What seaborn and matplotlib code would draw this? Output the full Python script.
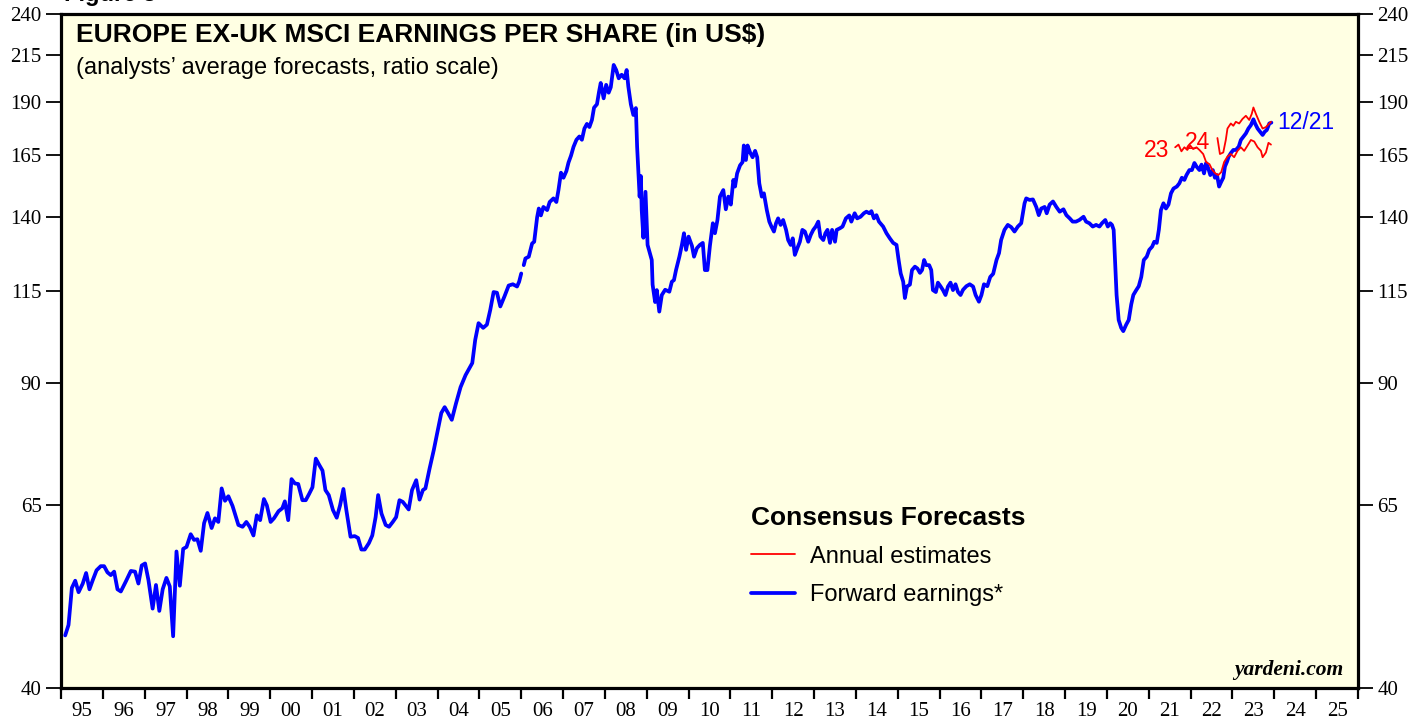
import pandas as pd
import matplotlib
matplotlib.use("Agg")
import matplotlib.pyplot as plt
from matplotlib.lines import Line2D
import seaborn as sns

# forward earnings (decimal year, US$); the line breaks early in 2006
fwd_years_a = [1995.10, 1995.18, 1995.26, 1995.34, 1995.42, 1995.52, 1995.60, 1995.68, 1995.76, 1995.85,
               1995.95, 1996.03, 1996.11, 1996.19, 1996.27, 1996.35, 1996.43, 1996.55, 1996.67, 1996.77,
               1996.85, 1996.93, 1997.01, 1997.09, 1997.19, 1997.27, 1997.35, 1997.43, 1997.52, 1997.60,
               1997.68, 1997.76, 1997.84, 1997.92, 1998.00, 1998.10, 1998.18, 1998.26, 1998.34, 1998.42,
               1998.50, 1998.60, 1998.68, 1998.76, 1998.84, 1998.92, 1999.00, 1999.10, 1999.24, 1999.34,
               1999.43, 1999.51, 1999.60, 1999.68, 1999.76, 1999.85, 1999.92, 2000.01, 2000.09, 2000.20,
               2000.29, 2000.35, 2000.43, 2000.51, 2000.59, 2000.67, 2000.77, 2000.85, 2000.93, 2001.01,
               2001.09, 2001.17, 2001.25, 2001.32, 2001.40, 2001.50, 2001.59, 2001.67, 2001.75, 2001.82,
               2001.92, 2002.02, 2002.10, 2002.18, 2002.26, 2002.36, 2002.44, 2002.52, 2002.58, 2002.66,
               2002.76, 2002.84, 2002.93, 2003.01, 2003.09, 2003.17, 2003.31, 2003.39, 2003.49, 2003.57,
               2003.65, 2003.71, 2003.81, 2003.91, 2003.99, 2004.09, 2004.17, 2004.25, 2004.34, 2004.44,
               2004.55, 2004.67, 2004.83, 2004.90, 2004.98, 2005.09, 2005.18, 2005.26, 2005.34, 2005.42,
               2005.50, 2005.60, 2005.70, 2005.80, 2005.90, 2005.95, 2006.00]
fwd_eps_a = [46.0, 47.3, 52.2, 53.2, 51.6, 52.8, 54.3, 52.0, 53.3, 54.7,
             55.3, 55.3, 54.4, 54.0, 54.5, 52.0, 51.7, 53.1, 54.6, 54.5,
             52.8, 55.4, 55.7, 53.3, 49.4, 52.6, 49.1, 52.0, 53.6, 52.4,
             45.9, 57.5, 52.5, 57.9, 58.2, 60.2, 59.3, 59.4, 57.6, 62.0,
             63.7, 61.2, 62.8, 62.2, 68.0, 65.8, 66.6, 64.9, 61.7, 61.4,
             62.2, 61.4, 60.0, 63.3, 62.5, 66.1, 65.0, 62.2, 62.8, 64.0,
             64.5, 65.7, 62.5, 69.7, 68.9, 68.8, 65.9, 65.9, 67.0, 68.2,
             73.6, 72.4, 71.3, 67.7, 66.8, 64.2, 62.9, 65.0, 67.9, 64.2,
             59.8, 59.9, 59.6, 57.8, 57.8, 58.8, 60.0, 63.0, 66.8, 63.6,
             61.7, 61.4, 62.2, 63.0, 65.9, 65.6, 64.3, 67.7, 69.5, 66.0,
             67.7, 68.0, 71.7, 75.3, 78.7, 83.1, 84.4, 83.1, 81.6, 85.2,
             89.0, 91.9, 94.9, 100.9, 105.5, 104.2, 105.1, 109.3, 114.6, 114.4,
             110.3, 113.3, 116.6, 117.0, 116.3, 117.8, 120.4]

fwd_years_b = [2006.06, 2006.10, 2006.18, 2006.26, 2006.31, 2006.38, 2006.42, 2006.47, 2006.53, 2006.62,
               2006.68, 2006.77, 2006.84, 2006.89, 2006.95, 2007.01, 2007.08, 2007.13, 2007.19, 2007.25,
               2007.32, 2007.39, 2007.45, 2007.51, 2007.57, 2007.63, 2007.69, 2007.74, 2007.81, 2007.86,
               2007.90, 2007.97, 2008.03, 2008.09, 2008.14, 2008.21, 2008.27, 2008.33, 2008.40, 2008.47,
               2008.52, 2008.56, 2008.62, 2008.68, 2008.74, 2008.77, 2008.83, 2008.86, 2008.88, 2008.92,
               2008.97, 2009.02, 2009.12, 2009.14, 2009.20, 2009.24, 2009.30, 2009.36, 2009.44, 2009.54,
               2009.60, 2009.65, 2009.70, 2009.78, 2009.84, 2009.89, 2009.94, 2010.00, 2010.08, 2010.13,
               2010.20, 2010.27, 2010.34, 2010.39, 2010.45, 2010.51, 2010.58, 2010.63, 2010.69, 2010.75,
               2010.83, 2010.89, 2010.95, 2011.01, 2011.07, 2011.11, 2011.16, 2011.23, 2011.29, 2011.32,
               2011.37, 2011.41, 2011.47, 2011.53, 2011.59, 2011.64, 2011.69, 2011.75, 2011.80, 2011.87,
               2011.93, 2011.98, 2012.04, 2012.09, 2012.14, 2012.20, 2012.26, 2012.33, 2012.38, 2012.44,
               2012.49, 2012.54, 2012.60, 2012.66, 2012.72, 2012.78, 2012.86, 2012.92, 2012.98, 2013.04,
               2013.10, 2013.15, 2013.22, 2013.27, 2013.32, 2013.38, 2013.43, 2013.50, 2013.54, 2013.62,
               2013.68, 2013.76, 2013.84, 2013.89, 2013.97, 2014.03, 2014.11, 2014.19, 2014.25, 2014.32,
               2014.37, 2014.43, 2014.49, 2014.55, 2014.65, 2014.73, 2014.81, 2014.89, 2014.97, 2015.02,
               2015.07, 2015.13, 2015.17, 2015.22, 2015.29, 2015.34, 2015.41, 2015.47, 2015.53, 2015.58,
               2015.63, 2015.68, 2015.75, 2015.80, 2015.84, 2015.91, 2015.96, 2016.02, 2016.08, 2016.14,
               2016.20, 2016.26, 2016.32, 2016.38, 2016.44, 2016.50, 2016.56, 2016.64, 2016.72, 2016.80,
               2016.86, 2016.94, 2017.00, 2017.06, 2017.14, 2017.21, 2017.28, 2017.36, 2017.42, 2017.47,
               2017.55, 2017.63, 2017.71, 2017.79, 2017.87, 2017.95, 2018.03, 2018.07, 2018.15, 2018.23,
               2018.31, 2018.37, 2018.43, 2018.51, 2018.56, 2018.63, 2018.71, 2018.79, 2018.87, 2018.96,
               2019.03, 2019.11, 2019.18, 2019.26, 2019.34, 2019.44, 2019.50, 2019.58, 2019.66, 2019.74,
               2019.82, 2019.88, 2019.96, 2020.02, 2020.08, 2020.12, 2020.16, 2020.20, 2020.23, 2020.28,
               2020.34, 2020.39, 2020.46, 2020.52, 2020.58, 2020.63, 2020.70, 2020.76, 2020.82, 2020.88,
               2020.95, 2021.01, 2021.08, 2021.13, 2021.19, 2021.24, 2021.29, 2021.35, 2021.41, 2021.47,
               2021.53, 2021.59, 2021.67, 2021.73, 2021.79, 2021.85, 2021.90, 2021.97, 2022.03, 2022.09,
               2022.14, 2022.21, 2022.26, 2022.32, 2022.37, 2022.42, 2022.47, 2022.53, 2022.58, 2022.63,
               2022.68, 2022.73, 2022.78, 2022.82, 2022.87, 2022.91, 2022.96, 2023.02, 2023.08, 2023.15,
               2023.20, 2023.26, 2023.32, 2023.38, 2023.44, 2023.50, 2023.54, 2023.60, 2023.66, 2023.72,
               2023.77, 2023.82, 2023.88, 2023.93]
fwd_eps_b = [123.1, 125.3, 125.9, 130.4, 131.0, 139.8, 143.1, 140.5, 143.7, 142.5,
             145.6, 147.0, 145.6, 150.3, 157.4, 155.3, 158.1, 161.7, 164.7, 168.6,
             171.8, 173.3, 171.8, 177.0, 179.2, 177.7, 181.1, 187.1, 188.8, 195.2,
             199.8, 191.8, 198.8, 194.7, 197.5, 209.6, 206.8, 202.3, 204.2, 202.3,
             206.8, 197.9, 188.8, 183.5, 186.9, 168.6, 147.7, 156.0, 142.5, 132.4,
             149.6, 129.9, 124.8, 116.9, 111.6, 115.2, 108.8, 113.7, 115.3, 114.7,
             117.8, 118.3, 121.5, 125.9, 129.9, 134.0, 128.2, 132.8, 129.6, 125.9,
             128.8, 129.9, 130.6, 121.5, 121.5, 129.6, 137.6, 134.0, 138.8, 147.7,
             150.3, 142.8, 147.7, 144.6, 154.4, 151.7, 157.1, 160.5, 161.9, 169.2,
             162.8, 169.2, 166.1, 164.0, 166.8, 164.0, 153.0, 147.7, 149.0, 142.5,
             138.2, 136.4, 134.6, 137.6, 139.4, 137.0, 138.8, 135.2, 131.6, 129.9,
             132.2, 126.5, 128.8, 131.0, 135.2, 134.6, 131.0, 133.4, 135.2, 136.4,
             138.2, 132.8, 131.6, 134.0, 135.2, 130.6, 135.2, 131.0, 135.2, 135.8,
             136.4, 139.4, 140.5, 138.2, 141.3, 139.4, 140.0, 141.3, 141.9, 141.3,
             142.1, 139.4, 140.6, 138.2, 136.4, 134.0, 132.2, 130.6, 129.9, 124.8,
             120.4, 117.8, 112.8, 116.3, 116.9, 121.5, 122.6, 122.0, 120.6, 121.5,
             124.8, 123.1, 123.1, 121.5, 115.2, 114.6, 117.5, 116.4, 115.2, 113.7,
             116.3, 117.5, 115.2, 117.0, 114.6, 113.7, 115.3, 116.4, 117.0, 116.3,
             113.7, 111.7, 113.7, 117.0, 116.4, 119.3, 120.3, 124.8, 127.1, 131.6,
             135.2, 137.0, 136.2, 134.6, 136.4, 137.6, 145.1, 147.0, 146.4, 146.6,
             143.7, 140.6, 143.1, 143.7, 141.3, 144.6, 145.8, 143.7, 141.9, 142.8,
             140.6, 139.4, 138.2, 138.2, 138.8, 140.0, 138.2, 137.6, 136.4, 137.0,
             136.4, 137.6, 138.8, 136.4, 137.6, 137.0, 135.2, 122.6, 113.7, 106.4,
             104.2, 103.3, 105.1, 106.4, 110.9, 113.7, 115.2, 116.4, 119.3, 124.8,
             125.9, 128.2, 129.3, 131.0, 130.6, 135.2, 142.5, 145.1, 143.1, 144.6,
             149.0, 150.9, 151.7, 153.0, 155.3, 154.4, 156.4, 158.5, 158.5, 161.5,
             160.0, 158.5, 160.8, 157.1, 161.5, 159.3, 156.4, 158.5, 155.3, 156.4,
             151.7, 153.6, 155.3, 160.0, 162.1, 164.3, 165.8, 167.2, 167.2, 168.7,
             171.7, 173.2, 174.7, 177.0, 178.6, 181.4, 179.4, 177.0, 175.5, 174.0,
             175.5, 176.3, 179.4, 179.8]

# annual consensus estimates for 2023 and 2024
est23_years = [2021.63, 2021.71, 2021.78, 2021.85, 2021.92, 2021.99, 2022.06, 2022.14, 2022.21, 2022.30,
               2022.37, 2022.45, 2022.52, 2022.59, 2022.66, 2022.73, 2022.80, 2022.88, 2022.96, 2023.04,
               2023.12, 2023.20, 2023.28, 2023.36, 2023.44, 2023.52, 2023.60, 2023.68, 2023.72, 2023.80,
               2023.86, 2023.92]
est23_eps = [168.4, 169.6, 166.6, 168.4, 167.2, 169.2, 167.6, 168.4, 167.2, 165.4,
             161.9, 161.0, 158.5, 157.1, 156.4, 157.6, 161.9, 164.3, 165.4, 164.0,
             166.8, 168.4, 166.8, 169.2, 171.7, 171.0, 168.4, 166.8, 164.0, 166.1,
             170.4, 169.6]
est24_years = [2022.64, 2022.70, 2022.78, 2022.84, 2022.88, 2022.96, 2023.02, 2023.08, 2023.16, 2023.24,
               2023.32, 2023.40, 2023.46, 2023.50, 2023.56, 2023.64, 2023.72, 2023.80, 2023.88, 2023.92]
est24_eps = [172.6, 165.4, 166.1, 171.7, 177.0, 179.4, 178.3, 180.2, 179.4, 181.6,
             183.1, 181.1, 184.0, 187.2, 184.0, 180.2, 177.0, 177.7, 179.4, 180.2]

y_ticks = [40, 65, 90, 115, 140, 165, 190, 215, 240]
x_years = list(range(1995, 2026))
x_labels = ["%02d" % (y % 100) for y in x_years]

fwd = pd.concat([pd.DataFrame({"year": fwd_years_a, "eps": fwd_eps_a, "seg": "a"}),
                 pd.DataFrame({"year": fwd_years_b, "eps": fwd_eps_b, "seg": "b"})])
est = pd.concat([pd.DataFrame({"year": est23_years, "eps": est23_eps, "line": "23"}),
                 pd.DataFrame({"year": est24_years, "eps": est24_eps, "line": "24"})])

sns.set_style("ticks")
plt.rcParams["font.family"] = ["Liberation Sans", "DejaVu Sans"]
plt.rcParams["text.color"] = "black"
plt.rcParams["xtick.color"] = "black"
plt.rcParams["ytick.color"] = "black"
serif = ["Liberation Serif", "DejaVu Serif"]

fig = plt.figure(figsize=(14.27, 7.19), dpi=100)
ax = fig.add_axes([61 / 1427, 31 / 719, 1297 / 1427, 674 / 719])
ax.set_facecolor("#ffffe3")

sns.lineplot(data=fwd, x="year", y="eps", units="seg", estimator=None, color="blue",
             lw=2.7, ax=ax, zorder=3)
sns.lineplot(data=est, x="year", y="eps", units="line", estimator=None, color="red",
             lw=1.3, ax=ax, zorder=4)

ax.set_yscale("log")
ax.set_ylim(40, 240)
ax.set_xlim(1995, 2026)
ax.set_xlabel("")
ax.set_ylabel("")

ax.minorticks_off()
ax.set_yticks(y_ticks, labels=[str(v) for v in y_ticks], fontfamily=serif, fontsize=15)
ax.set_xticks(range(1995, 2027), labels=[""] * 32)
ax.set_xticks([y + 0.5 for y in x_years], labels=x_labels, minor=True,
              fontfamily=serif, fontsize=15)
ax.tick_params(axis="y", which="major", direction="out", length=11, width=1.3, pad=3,
               left=True, right=True, labelleft=True, labelright=True)
ax.tick_params(axis="x", which="major", direction="out", length=8, width=1.6)
ax.tick_params(axis="x", which="minor", length=0, pad=10)

for s in ax.spines.values():
    s.set_visible(True)
    s.set_linewidth(2.3)
    s.set_color("black")

ax.text(0.0115, 0.986, "EUROPE EX-UK MSCI EARNINGS PER SHARE (in US$)", transform=ax.transAxes,
        fontsize=19, fontweight="bold", va="top", ha="left")
ax.text(0.0115, 0.936, "(analysts\u2019 average forecasts, ratio scale)", transform=ax.transAxes,
        fontsize=17, va="top", ha="left")

ax.annotate("23", xy=(est23_years[0], est23_eps[0]), xytext=(-4, -2.5), textcoords="offset points",
            color="red", fontsize=16.5, ha="right", va="center")
ax.annotate("24", xy=(est24_years[0], est24_eps[0]), xytext=(-5.5, -3.5), textcoords="offset points",
            color="red", fontsize=16.5, ha="right", va="center")
ax.annotate("12/21", xy=(fwd_years_b[-1], fwd_eps_b[-1]), xytext=(4, 0), textcoords="offset points",
            color="blue", fontsize=16.5, ha="left", va="center")

ax.text(0.989, 0.012, "yardeni.com", transform=ax.transAxes, fontsize=15.5, fontweight="bold",
        fontstyle="italic", fontfamily=serif, ha="right", va="bottom")

handles = [Line2D([], [], color="red", lw=1.3), Line2D([], [], color="blue", lw=2.7)]
leg = ax.legend(handles, ["Annual estimates", "Forward earnings*"], title="Consensus Forecasts",
                loc="upper left", bbox_to_anchor=(0.532, 0.2705), frameon=False, fontsize=17,
                title_fontproperties={"weight": "bold", "size": 19}, alignment="left",
                handlelength=1.85, handletextpad=0.64, labelspacing=0.68, borderpad=0,
                borderaxespad=0)

fig.text(0.045, 0.9985, "Figure 3", fontsize=17, fontweight="bold", va="baseline", ha="left")

fig.savefig("out.png", dpi=100)
